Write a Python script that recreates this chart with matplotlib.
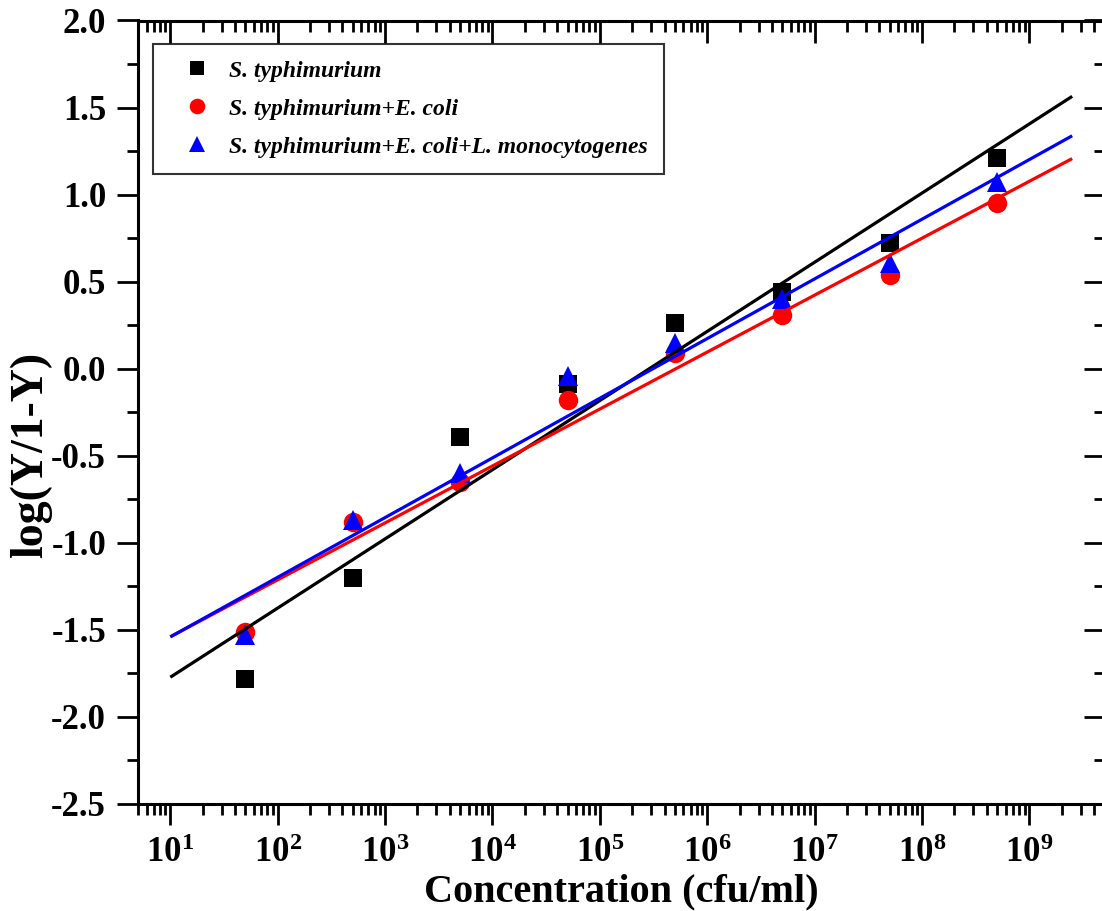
import numpy as np
import matplotlib
matplotlib.use("Agg")
import matplotlib.pyplot as plt
from matplotlib.ticker import LogLocator, MultipleLocator, FixedLocator, NullFormatter

plt.rcParams['font.family'] = ['Liberation Serif', 'DejaVu Serif']
plt.rcParams['font.weight'] = 'bold'
plt.rcParams['axes.unicode_minus'] = False
plt.rcParams['mathtext.fontset'] = 'custom'
plt.rcParams['mathtext.rm'] = 'Liberation Serif:bold'
plt.rcParams['mathtext.bf'] = 'Liberation Serif:bold'
plt.rcParams['mathtext.it'] = 'Liberation Serif:bold:italic'

# Concentration (cfu/ml)
concentration = [5e1, 5e2, 5e3, 5e4, 5e5, 5e6, 5e7, 5e8]

# log(Y/1-Y) responses
st = [-1.78, -1.20, -0.39, -0.09, 0.26, 0.44, 0.72, 1.21]
st_ec = [-1.51, -0.88, -0.65, -0.18, 0.09, 0.31, 0.54, 0.95]
st_ec_lm = [-1.53, -0.87, -0.60, -0.04, 0.15, 0.40, 0.61, 1.07]

labels = [r"S. typhimurium",
          r"S. typhimurium+E. coli",
          r"S. typhimurium+E. coli+L. monocytogenes"]
colors = ["black", "red", "blue"]
markers = ["s", "o", "^"]
msizes = [12.5, 14, 15]

x_tick_exps = list(range(1, 10))
y_ticks = [2.0, 1.5, 1.0, 0.5, 0.0, -0.5, -1.0, -1.5, -2.0, -2.5]
fit_range = (1e1, 2.5e9)

W, H = 1102, 911
fig = plt.figure(figsize=(W / 100, H / 100), dpi=100)
ax_l, ax_r, ax_t, ax_b = 138, 1104.5, 20.5, 804
ax = fig.add_axes([ax_l / W, (H - ax_b) / H, (ax_r - ax_l) / W, (ax_b - ax_t) / H])

xlim = (5, 5e9)
ylim = (-2.5, 2.0)

logx = np.log10(concentration)
xfit = np.log10(np.array(fit_range))
for ys, c, m, ms, lab in zip([st, st_ec, st_ec_lm], colors, markers, msizes, labels):
    ax.plot(concentration, ys, linestyle="none", marker=m, color=c,
            markersize=ms, markeredgewidth=0, label=lab, zorder=2)
for ys, c in zip([st, st_ec, st_ec_lm], colors):
    slope, intercept = np.polyfit(logx, ys, 1)
    ax.plot(10 ** xfit, slope * xfit + intercept, color=c, linewidth=2.3,
            zorder=3, solid_capstyle="butt")

ax.set_xscale("log")
ax.set_xlim(*xlim)
ax.set_ylim(*ylim)

ax.xaxis.set_major_locator(FixedLocator([10.0 ** e for e in x_tick_exps]))
ax.xaxis.set_minor_locator(LogLocator(base=10, subs=np.arange(2, 10), numticks=30))
ax.xaxis.set_minor_formatter(NullFormatter())
ax.set_xticklabels([r"$\mathdefault{10^{%d}}$" % e for e in x_tick_exps])
ax.yaxis.set_major_locator(FixedLocator(y_ticks))
ax.yaxis.set_minor_locator(MultipleLocator(0.25))
ax.set_yticklabels(["%.1f" % v for v in y_ticks])

for s in ["left", "bottom"]:
    ax.spines[s].set_linewidth(2.2)
for s in ["right", "top"]:
    ax.spines[s].set_visible(False)

ax.tick_params(which="both", direction="out", width=2.0, labelsize=25,
               top=False, right=False)
ax.tick_params(which="major", length=15)
ax.tick_params(which="minor", length=8)
ax.tick_params(axis="y", pad=8)
ax.tick_params(axis="x", pad=9)

# Inward ticks on the top edge
axt = ax.twiny()
axt.set_xscale("log")
axt.set_xlim(*xlim)
axt.xaxis.set_major_locator(FixedLocator([10.0 ** e for e in x_tick_exps]))
axt.xaxis.set_minor_locator(LogLocator(base=10, subs=np.arange(2, 10), numticks=30))
axt.xaxis.set_minor_formatter(NullFormatter())
axt.tick_params(axis="x", which="both", direction="in", width=2.0, labeltop=False,
                labelbottom=False, top=True, bottom=False)
axt.tick_params(axis="x", which="major", length=16)
axt.tick_params(axis="x", which="minor", length=8)
axt.tick_params(axis="y", which="both", left=False, right=False,
                labelleft=False, labelright=False)
axt.spines["top"].set_linewidth(2.2)
for s in ["left", "right", "bottom"]:
    axt.spines[s].set_visible(False)

# Inward ticks on the right edge
axr = ax.twinx()
axr.set_ylim(*ylim)
axr.yaxis.set_major_locator(FixedLocator(y_ticks))
axr.yaxis.set_minor_locator(MultipleLocator(0.25))
axr.tick_params(axis="y", which="both", direction="in", width=2.0, labelright=False,
                labelleft=False, right=True, left=False)
axr.tick_params(axis="y", which="major", length=15)
axr.tick_params(axis="y", which="minor", length=8)
axr.tick_params(axis="x", which="both", top=False, bottom=False,
                labeltop=False, labelbottom=False)
axr.spines["right"].set_linewidth(2.2)
for s in ["left", "top", "bottom"]:
    axr.spines[s].set_visible(False)

ax.set_xlabel("Concentration (cfu/ml)", fontsize=29, fontweight="bold", labelpad=2)
fig.text(31 / W, 1 - 455 / H, "log(Y/1-Y)", rotation=90, fontsize=33,
         fontweight="bold", ha="center", va="center")

leg = ax.legend(loc="upper left", bbox_to_anchor=((152.7 - ax_l) / (ax_r - ax_l),
                                                  (ax_b - 44) / (ax_b - ax_t)),
                borderaxespad=0, frameon=True, fancybox=False, edgecolor="black",
                prop={"family": "Liberation Serif", "style": "italic",
                      "weight": "bold", "size": 17},
                markerscale=0.8, handlelength=2.4, handletextpad=0.15,
                labelspacing=0.7, borderpad=0.68)
leg.get_frame().set_linewidth(1.5)
leg.set_zorder(5)

fig.savefig("out.png", dpi=100)
